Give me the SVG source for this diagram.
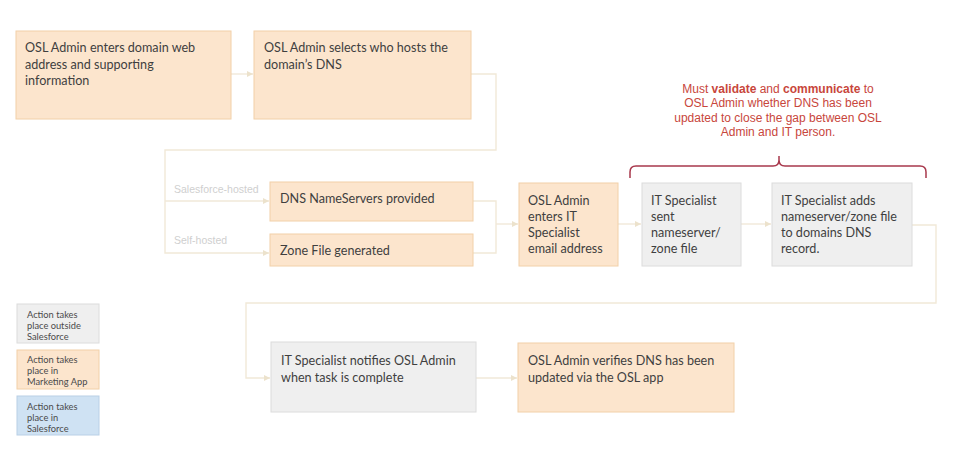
<svg xmlns="http://www.w3.org/2000/svg" width="960" height="449" viewBox="0 0 960 449">
<defs>
<style>
.orange{fill:#fce5cd;stroke:#f2d0a8;stroke-width:1}
.gray{fill:#efefef;stroke:#dcdcdc;stroke-width:1}
.blue{fill:#cfe2f3;stroke:#b9d0e6;stroke-width:1}
.t{font-family:Lato,"Open Sans","Noto Sans",sans-serif;font-size:12.6px;fill:#3f3f3f}
.lg{font-family:Lato,"Open Sans",sans-serif;font-size:9.3px;fill:#4a4a4a}
.lbl{font-family:"Liberation Sans",Arial,sans-serif;font-size:10.5px;fill:#cfcfcf}
.red{font-family:"Liberation Sans",Arial,sans-serif;font-size:12px;fill:#c8463c;text-anchor:middle}
.conn{fill:none;stroke:#f1e9d8;stroke-width:1.4}
</style>
<marker id="ah" viewBox="0 0 6 6" refX="6" refY="3" markerWidth="4.5" markerHeight="4.5" orient="auto"><path d="M0,0 L6,3 L0,6 z" fill="#ece2cc"/></marker>
</defs>
<rect width="960" height="449" fill="#ffffff"/>
<g id="connectors">
<path class="conn" d="M231,74 H253" marker-end="url(#ah)"/>
<path class="conn" d="M471,74 H496 V150 H165 V253 H269" marker-end="url(#ah)"/>
<path class="conn" d="M165,201 H269" marker-end="url(#ah)"/>
<path class="conn" d="M473,201 H496 V253 H473"/>
<path class="conn" d="M496,224 H518" marker-end="url(#ah)"/>
<path class="conn" d="M618,224 H641" marker-end="url(#ah)"/>
<path class="conn" d="M741,224 H771" marker-end="url(#ah)"/>
<path class="conn" d="M912,225 H936 V303 H246 V378 H270" marker-end="url(#ah)"/>
<path class="conn" d="M476,378 H517" marker-end="url(#ah)"/>
<text class="lbl" x="174" y="193">Salesforce-hosted</text>
<text class="lbl" x="174" y="244">Self-hosted</text>
</g>
<g id="n1">
<rect class="orange" x="16" y="31" width="215" height="88"/>
<text class="t" x="25" y="52">OSL Admin enters domain web</text>
<text class="t" x="25" y="68.5">address and supporting</text>
<text class="t" x="25" y="85">information</text>
</g>
<g id="n2">
<rect class="orange" x="254" y="31" width="217" height="88"/>
<text class="t" x="264" y="52">OSL Admin selects who hosts the</text>
<text class="t" x="264" y="68.5">domain’s DNS</text>
</g>
<g id="n3">
<rect class="orange" x="270" y="182" width="203" height="39"/>
<text class="t" x="280" y="203">DNS NameServers provided</text>
</g>
<g id="n4">
<rect class="orange" x="270" y="234" width="203" height="32"/>
<text class="t" x="280" y="255">Zone File generated</text>
</g>
<g id="n5">
<rect class="orange" x="519" y="183" width="99" height="83"/>
<text class="t" x="528" y="205">OSL Admin</text>
<text class="t" x="528" y="221">enters IT</text>
<text class="t" x="528" y="237">Specialist</text>
<text class="t" x="528" y="253">email address</text>
</g>
<g id="n6">
<rect class="gray" x="642" y="183" width="99" height="83"/>
<text class="t" x="651" y="205">IT Specialist</text>
<text class="t" x="651" y="221">sent</text>
<text class="t" x="651" y="237">nameserver/</text>
<text class="t" x="651" y="253">zone file</text>
</g>
<g id="n7">
<rect class="gray" x="772" y="183" width="140" height="83"/>
<text class="t" x="781" y="205">IT Specialist adds</text>
<text class="t" x="781" y="221">nameserver/zone file</text>
<text class="t" x="781" y="237">to domains DNS</text>
<text class="t" x="781" y="253">record.</text>
</g>
<g id="n8">
<rect class="gray" x="271" y="342" width="205" height="70"/>
<text class="t" x="281" y="365">IT Specialist notifies OSL Admin</text>
<text class="t" x="281" y="382">when task is complete</text>
</g>
<g id="n9">
<rect class="orange" x="518" y="343" width="216" height="69"/>
<text class="t" x="528" y="365">OSL Admin verifies DNS has been</text>
<text class="t" x="528" y="382">updated via the OSL app</text>
</g>
<g id="note">
<text class="red" x="778" y="93">Must <tspan font-weight="bold">validate</tspan> and <tspan font-weight="bold">communicate</tspan> to</text>
<text class="red" x="778" y="107">OSL Admin whether DNS has been</text>
<text class="red" x="778" y="122">updated to close the gap between OSL</text>
<text class="red" x="778" y="136">Admin and IT person.</text>
<path d="M630,178 V172 Q630,166 636,166 H773 Q779,166 779,160 V156 M779,156 V160 Q779,166 785,166 H920 Q926,166 926,172 V178" fill="none" stroke="#a8384c" stroke-width="1.5"/>
</g>
<g id="legend">
<g id="lg1">
<rect class="gray" x="17" y="304" width="82" height="39"/>
<text class="lg" x="27" y="318">Action takes</text>
<text class="lg" x="27" y="329">place outside</text>
<text class="lg" x="27" y="339.5">Salesforce</text>
</g>
<g id="lg2">
<rect class="orange" x="17" y="350" width="82" height="39"/>
<text class="lg" x="27" y="363">Action takes</text>
<text class="lg" x="27" y="374">place in</text>
<text class="lg" x="27" y="384.5">Marketing App</text>
</g>
<g id="lg3">
<rect class="blue" x="17" y="396" width="82" height="39"/>
<text class="lg" x="27" y="410">Action takes</text>
<text class="lg" x="27" y="421">place in</text>
<text class="lg" x="27" y="431.5">Salesforce</text>
</g>
</g>
</svg>
